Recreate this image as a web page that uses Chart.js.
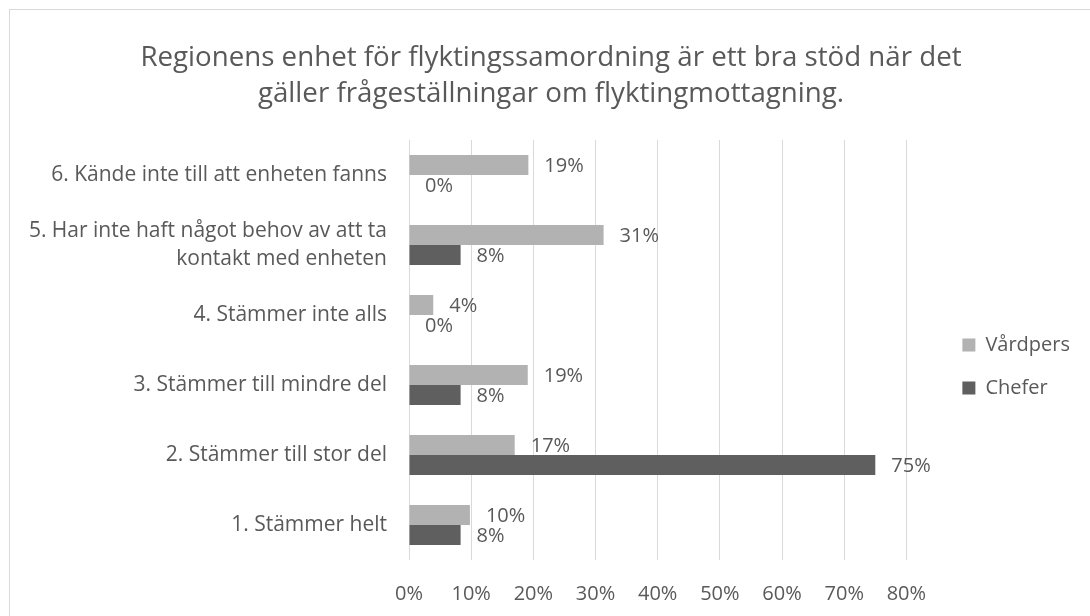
<!DOCTYPE html>
<html>
<head>
<meta charset="utf-8">
<script src="https://cdn.jsdelivr.net/npm/chart.js@4.4.0/dist/chart.umd.min.js"></script>
<style>
  html, body { margin: 0; padding: 0; background: #ffffff; overflow: hidden; }
  #frame { position: absolute; left: 9px; top: 9px; width: 1200px; height: 700px; border: 1px solid #d9d9d9; box-sizing: border-box; }
  #wrap { position: absolute; left: 0; top: 0; width: 1090px; height: 616px; }
</style>
</head>
<body>
<div id="frame"></div>
<div id="wrap"><canvas id="c" width="1090" height="616"></canvas></div>
<script>
const titleLines = [
  'Regionens enhet för flyktingssamordning är ett bra stöd när det',
  'gäller frågeställningar om flyktingmottagning.'
];
const categories = [
  '6. Kände inte till att enheten fanns',
  ['5. Har inte haft något behov av att ta', 'kontakt med enheten'],
  '4. Stämmer inte alls',
  '3. Stämmer till mindre del',
  '2. Stämmer till stor del',
  '1. Stämmer helt'
];
const seriesNames = ['Vårdpers', 'Chefer'];
const vardpers = [19.2, 31.3, 3.9, 19.1, 17.0, 9.8];
const chefer = [0, 8.3, 0, 8.3, 75.0, 8.3];
const xTicks = [0, 10, 20, 30, 40, 50, 60, 70, 80];

const FONT = "'Open Sans', 'Liberation Sans', sans-serif";
const TXT = '#595959';

const valueLabels = {
  id: 'valueLabels',
  afterLayout(chart) {
    if (chart.titleBlock) {
      chart.titleBlock.left += 11;
      chart.titleBlock.right += 11;
    }
  },
  afterDatasetsDraw(chart) {
    const ctx = chart.ctx;
    ctx.save();
    ctx.font = '20px ' + FONT;
    ctx.fillStyle = TXT;
    ctx.textAlign = 'left';
    ctx.textBaseline = 'middle';
    chart.data.datasets.forEach((ds, di) => {
      const meta = chart.getDatasetMeta(di);
      meta.data.forEach((bar, i) => {
        const v = ds.data[i];
        ctx.fillText(Math.round(v) + '%', bar.x + 16, bar.y + 1);
      });
    });
    ctx.restore();
  }
};

new Chart(document.getElementById('c'), {
  type: 'bar',
  data: {
    labels: categories,
    datasets: [
      { label: seriesNames[0], data: vardpers, backgroundColor: '#b2b2b2', borderWidth: 0 },
      { label: seriesNames[1], data: chefer, backgroundColor: '#5f5f5f', borderWidth: 0 }
    ]
  },
  options: {
    indexAxis: 'y',
    responsive: false,
    animation: false,
    maintainAspectRatio: false,
    categoryPercentage: 0.571,
    barPercentage: 1.0,
    layout: { padding: { left: 0, right: 10, top: 0, bottom: 0 } },
    scales: {
      x: {
        min: 0, max: 80,
        afterBuildTicks: (s) => { s.ticks = xTicks.map(v => ({ value: v })); },
        afterFit: (s) => { s.height = 56; },
        grid: { color: '#d9d9d9', lineWidth: 1, drawTicks: false },
        border: { display: false },
        ticks: { color: TXT, font: { family: FONT, size: 20 }, padding: 22, callback: (v) => v + '%' }
      },
      y: {
        afterFit: (s) => { s.width = 409; },
        grid: { display: false, drawTicks: false },
        border: { display: false },
        ticks: { color: TXT, font: { family: FONT, size: 21, lineHeight: 1.33 }, padding: 22 }
      },
      y2: {
        type: 'linear',
        position: 'right',
        afterFit: (s) => { s.width = 33; },
        grid: { display: false, drawTicks: false },
        border: { display: false },
        ticks: { display: false }
      }
    },
    plugins: {
      title: {
        display: true,
        text: titleLines,
        color: TXT,
        font: { family: FONT, size: 27.7, weight: 'normal', lineHeight: 1.3 },
        padding: { top: 40, bottom: 28 }
      },
      legend: {
        display: true,
        position: 'right',
        fullSize: false,
        title: { display: true, text: '', font: { size: 11 }, padding: 10 },
        labels: {
          boxWidth: 13, boxHeight: 13, padding: 23,
          color: TXT,
          font: { family: FONT, size: 20 }
        }
      },
      tooltip: { enabled: false }
    }
  },
  plugins: [valueLabels]
});
</script>
</body>
</html>
